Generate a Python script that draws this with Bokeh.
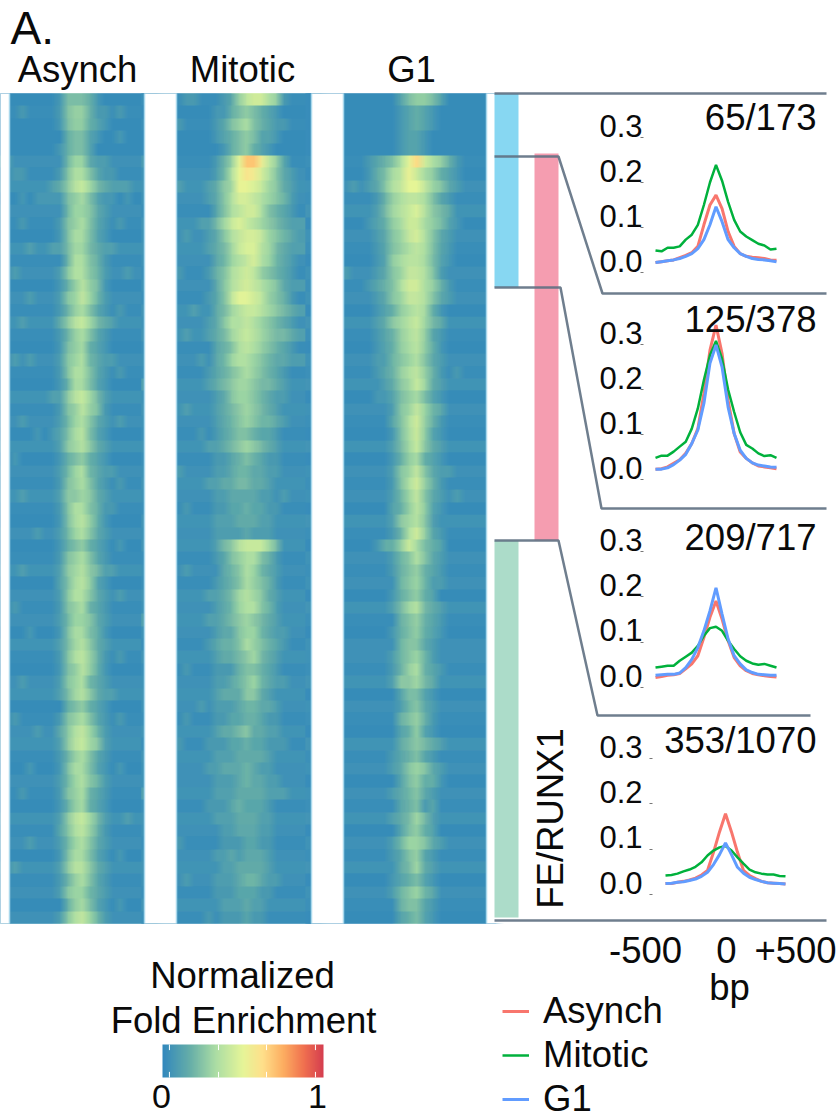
from bokeh.plotting import figure
from bokeh.embed import file_html
from bokeh.resources import INLINE
from bokeh.core.properties import value
from bokeh.models import Range1d, LinearAxis, FixedTicker, Legend, LegendItem, LinearColorMapper
import numpy as np

# ---------- data ----------
BP = list(range(-500, 501, 50))
P1_ASYNCH = [.022,.024,.026,.028,.033,.038,.044,.058,.106,.150,.172,.142,.091,.058,.042,.036,.034,.033,.031,.028,.027]
P1_MITOTIC = [.049,.047,.055,.055,.058,.073,.084,.106,.150,.200,.239,.204,.157,.117,.091,.080,.072,.064,.060,.051,.053]
P1_G1 = [.022,.024,.026,.028,.031,.036,.042,.053,.073,.106,.146,.113,.073,.055,.042,.036,.031,.029,.028,.026,.024]
P2_ASYNCH = [.023,.024,.028,.036,.044,.058,.080,.113,.191,.287,.343,.280,.176,.102,.061,.047,.037,.030,.028,.026,.024]
P2_MITOTIC = [.048,.053,.053,.062,.073,.084,.113,.158,.221,.276,.308,.268,.200,.150,.105,.077,.069,.058,.052,.054,.048]
P2_G1 = [.023,.023,.026,.033,.043,.056,.080,.110,.169,.258,.299,.250,.161,.102,.065,.047,.037,.032,.030,.028,.027]
P3_ASYNCH = [.022,.024,.027,.028,.031,.041,.052,.070,.110,.155,.191,.151,.103,.066,.048,.037,.031,.028,.026,.024,.023]
P3_MITOTIC = [.044,.046,.048,.048,.059,.068,.077,.092,.114,.131,.134,.125,.103,.085,.069,.059,.053,.050,.052,.048,.044]
P3_G1 = [.027,.028,.029,.029,.032,.044,.062,.088,.125,.169,.220,.162,.107,.070,.052,.039,.033,.029,.028,.027,.027]
P4_ASYNCH = [.024,.024,.027,.029,.032,.036,.043,.053,.093,.138,.178,.138,.093,.053,.042,.035,.029,.026,.025,.024,.023]
P4_MITOTIC = [.042,.043,.046,.051,.055,.061,.071,.086,.097,.104,.107,.097,.082,.068,.055,.049,.046,.044,.044,.041,.040]
P4_G1 = [.024,.025,.027,.028,.031,.034,.040,.049,.066,.088,.114,.088,.060,.047,.038,.033,.029,.026,.025,.024,.023]
PEAK_LABELS = ["65/173", "125/378", "209/717", "353/1070"]
Y_TICKS = [0.0, 0.1, 0.2, 0.3]
SERIES = ["Asynch", "Mitotic", "G1"]
SERIES_COLORS = ["#f8766d", "#00b13c", "#619cff"]
COLORBAR_TICKS = [0.043, 0.348, 0.646, 0.950]

# heat map rows, top to bottom; each character is a level read by eye (base 36, 1 level = 0.05)
HEAT_ASYNCH = [
"111111125554211111","112111125664221211","111111125664321111","111111114553211211","111111124553111111",
"211111114663221111","122111125775322111","111111235786432221","112122225675322121","111111114665321111",
"112111125675321211","111111125775321111","111211224664322111","111111114775421111","121111125775421121",
"111111124686521111","111211125686421111","111111124675321211","112111135786432111","111111124675321111",
"111111125674321111","121211125674322111","111111125775321211","111111124775321111","111111225786421111",
"111111125686521111","112111124675321211","111121235785321111","111111125675321111","121111124564321111",
"111111124674322111","111111125675321211","112111125565321111","111111125775422111","111111125786421111",
"111121124675321111","111111124564321211","111111125675321111","112111125675422111","111111135786321111",
"111111125775321211","121111125674321111","111111124665321111","111211125775421111","111111124675321111",
"111111125786421211","111111125686421111","112111125674321111","111111124675322111","111111114564321111",
"121111125675321211","111121135786421111","111111125786521111","111111124675321111","111211125775321211",
"111111124675421111","112111125674321111","111111124674321111","111111125786421121","111111135786421111",
"111211124675321111","111111125775321211","121111125775321111","111111124675321111","111111125664321111",
"111111114675321211","111111125786421111",
]
HEAT_MITOTIC = [
"112211123689976211","111111224565432111","121111235675432211","111111234565332111","111111124564321111",
"211111246aeeb86311","111111247acb975321","121112356aa9865321","111112357998765421","111111357899754321",
"111122468987654322","112112357899865432","111112346899764322","111111346789764321","121112457898654321",
"111111357898765322","111112358aa9865421","111211346788765432","111112357787654321","112112346787654432",
"111111345787654321","111121346776543322","111112345676543211","211112345665443211","111111235665432211",
"112111234565432111","111111234565443211","111121234554332111","111112234565432111","111111223454322111",
"121111223443322111","111112233443321111","111111223333221211","112111223343322111","111111222333221111",
"111111222232221111","111111245788864111","111111235677542111","112111134576432111","111111234576542111",
"111112234676532111","111111234677542111","211112234565432111","111111233566432211","111112344576543211",
"111111233456432111","112111222455432111","111111223456432211","111111233355321111","111121222344332111",
"112111223344322111","111111233453322111","121112223343322211","111111222333321111","111112233343221111",
"111111222343322111","211111222333322211","111112223433321111","111111222333221111","111111122333221111",
"121111122233221111","111111223233321111","111111122333321111","112111222344322111","111111222333221111",
"111111122232211111","111112122232211111",
]
HEAT_G1 = [
"111111113566531111","111111112343211111","111111112343211111","111111112332111111","111111112332111111",
"111123457ad9764211","111124578b97643211","112123578aa8653211","111112467887532111","111112467897543111",
"111123467997653211","111112356897532111","111112356787532111","111112367887532111","121112356887521111",
"111123457997642111","111112356887532111","111112346787421111","111112356786431111","111112346786321111",
"111112346786421111","111112245675321111","111112346786421211","111111235686321111","111112235675321111",
"111111125686431111","111111135796421111","111111125796321111","111111124685321111","111111124674321111",
"111111125685322111","111111125796421111","111111124685321211","111111134686321111","111111125675211111",
"111111124796321111","111112446975431111","111111124575321111","111111124564321111","111111114564221111",
"111111124564311111","111111124674321111","111111114564321111","111111124564321111","111111114553211111",
"111111124564211111","111111124674321111","111111125564311111","111111113553211111","111111112453211111",
"111111114564211111","111111113463211111","111111113454321111","111111123453211111","111111123565321111",
"111111113564421111","111111123453211111","111111113452311111","111111123464211111","111111113564311111",
"111111124665321111","111111123563211111","111111113463211111","111111123453211111","111111124564311111",
"111111114553211111","111111113453211111",
]
# faint full-width streaks of each row, read by eye (1 level = 0.012)
STREAK_ASYNCH = "01000" "2130210312" "0213102103" "1203021310" "2013021203" "1023012310" "2103120312" "02"
STREAK_MITOTIC = "10100" "1232132321" "2132312132" "3213123213" "2312132321" "3123213132" "2313212321" "31"
STREAK_G1 = "00000" "1021302102" "1203102130" "2103021203" "1021203102" "2130210312" "0213021302" "10"

# ---------- page geometry (pixels of the picture) ----------
W, H = 840, 1117
PX0, PX1, PY_BOTTOM, PY_TOP = 0, W, H, 0
HEAT_BOXES = [(9, 144), (176, 311), (343, 486)]
HEAT_SHIFT = [-0.8, -1.2, -1.3]   # columns
HEAT_Y = (93, 923)
LINE_BOXES = [  # x of -500 / +500, y of 0.0 / 0.3
    (655, 776, 272, 137), (655, 776, 479, 344), (655, 776, 687, 551), (665, 785, 894, 758)]
FONT = value("Liberation Sans")

p = figure(width=W, height=H, x_range=Range1d(PX0, PX1), y_range=Range1d(PY_BOTTOM, PY_TOP),
           x_axis_type=None, y_axis_type=None, toolbar_location=None, output_backend="svg",
           min_border=0, outline_line_color=None, background_fill_color="white")


def xr(pix0, pix1, v0, v1):
    f = lambda px: v0 + (px - pix0) * (v1 - v0) / (pix1 - pix0)
    return Range1d(f(PX0), f(PX1))


def yr(pix0, pix1, v0, v1):
    f = lambda px: v0 + (px - pix0) * (v1 - v0) / (pix1 - pix0)
    return Range1d(f(PY_BOTTOM), f(PY_TOP))


def label(x, y, s, size=36.5, align="center", angle=0):
    # y is the text's baseline in the picture; Bokeh is given the middle of the text
    p.text([x], [y - 0.34 * size if angle == 0 else y], text=[s], text_font=FONT, text_font_size=f"{size}px",
           text_align=align, text_baseline="middle", text_color="#0a0a0a", angle=angle)


# ---------- colour map ----------
ANCHOR_POS = [0, .17, .33, .5, .62, .75, .88, 1]
ANCHOR_COL = ["#3288bd", "#66aea8", "#abdda4", "#e6f598", "#fee08b", "#fdae61", "#f0704f", "#d53e4f"]
rgb = np.array([[int(c[i:i + 2], 16) for i in (1, 3, 5)] for c in ANCHOR_COL], float)
t = np.linspace(0, 1, 256)
palette = ["#%02x%02x%02x" % tuple(int(round(np.interp(v, ANCHOR_POS, rgb[:, k]))) for k in range(3)) for v in t]
mapper = LinearColorMapper(palette=palette, low=0, high=1)

# ---------- heat maps ----------
# The same matrix is laid over itself a few times, a fraction of a cell apart, to soften
# the column steps the way the scanned original is soft.
LAYERS = 8
PAD = 3
for name, rows, streak, (x0, x1), sh in zip(SERIES, [HEAT_ASYNCH, HEAT_MITOTIC, HEAT_G1],
                                            [STREAK_ASYNCH, STREAK_MITOTIC, STREAK_G1], HEAT_BOXES, HEAT_SHIFT):
    m = np.array([[int(c, 36) * 0.05 - 0.025 + int(s) * 0.012 for c in r.ljust(18, "1")[:18]]
                  for r, s in zip(rows, streak)])[::-1]
    nr, nc = m.shape
    padded = np.hstack([np.repeat(m[:, :1], PAD, axis=1), m, np.repeat(m[:, -1:], PAD, axis=1)])
    p.extra_x_ranges[f"hx{name}"] = xr(x0, x1, 0, nc)
    p.extra_y_ranges[f"hy{name}"] = yr(HEAT_Y[1], HEAT_Y[0], 0, nr)
    for k in range(LAYERS):
        shift = k / (LAYERS - 1) - 0.5 + sh
        p.image(image=[padded], x=shift - PAD, y=0, dw=nc + 2 * PAD, dh=nr, color_mapper=mapper,
                global_alpha=1 / (k + 1), x_range_name=f"hx{name}", y_range_name=f"hy{name}")

# white gutters trim the softened layers back to the panel edges
MASK_L = [-20, 144, 311, 486]
MASK_R = [9, 176, 343, 520]
p.quad(left=MASK_L, right=MASK_R, top=[HEAT_Y[0]] * 4, bottom=[HEAT_Y[1]] * 4, fill_color="white", line_color=None)
EDGE_X = [9, 144, 176, 311, 343, 486]
p.segment(EDGE_X, [HEAT_Y[0]] * 6, EDGE_X, [HEAT_Y[1]] * 6, line_color="#a9d8ec", line_width=1.5)

# ---------- side bands and connectors ----------
p.quad(left=[494, 534, 494], right=[518, 558, 518], top=[93, 153, 540], bottom=[287, 540, 917],
       fill_color=["#87d7f2", "#f59db0", "#acdcc9"], line_color=None)
CONNECT_X = [[494, 826], [494, 558, 602, 826], [494, 560, 601, 826], [494, 558, 597, 810], [494, 826]]
CONNECT_Y = [[93, 93], [156, 156, 293, 293], [287, 287, 508, 508], [540, 540, 715, 715], [920, 920]]
p.multi_line(CONNECT_X, CONNECT_Y, line_color="#5f7082", line_width=2.5, line_alpha=0.9)

# ---------- line panels ----------
ALL_SERIES = [[P1_ASYNCH, P1_MITOTIC, P1_G1], [P2_ASYNCH, P2_MITOTIC, P2_G1],
              [P3_ASYNCH, P3_MITOTIC, P3_G1], [P4_ASYNCH, P4_MITOTIC, P4_G1]]
TICK_X = [643, 643, 643, 652]
legend_refs = []
for i, (box, vals) in enumerate(zip(LINE_BOXES, ALL_SERIES)):
    xn, yn = f"lx{i}", f"ly{i}"
    p.extra_x_ranges[xn] = xr(box[0], box[1], -500, 500)
    p.extra_y_ranges[yn] = yr(box[2], box[3], 0, 0.3)
    axis = LinearAxis(y_range_name=yn, ticker=FixedTicker(ticks=Y_TICKS), fixed_location=TICK_X[i],
                      axis_line_color=None, major_tick_line_color="#777777", major_tick_line_width=1,
                      major_tick_in=0, major_tick_out=3, minor_tick_line_color=None,
                      major_label_text_color=None, major_label_text_font_size="1px")
    p.add_layout(axis, "left")
    rs = []
    for v, c, w in zip(vals, SERIES_COLORS, [3, 2.5, 3]):
        rs.append(p.line(BP, v, line_color=c, line_width=w, x_range_name=xn, y_range_name=yn))
    if i == 0:
        legend_refs = rs
    p.text([642] * 4, Y_TICKS, text=[f"{v:.1f}" for v in Y_TICKS], y_range_name=yn, y_offset=-12,
           text_font=FONT, text_font_size="31px", text_align="right", text_baseline="middle",
           text_color="#0a0a0a")

LABEL_Y = [129, 331, 549, 752]
for s, y in zip(PEAK_LABELS, LABEL_Y):
    label(816, y, s, align="right")

# ---------- text ----------
label(10, 43, "A.", size=46, align="left")
for s, x in zip(SERIES, [77, 242, 411]):
    label(x, 81, s)
label(550, 818, "FE/RUNX1", angle=np.pi / 2)
for s, x in zip(["-500", "0", "+500"], [645, 726, 795]):
    label(x, 962, s)
label(729, 999, "bp")
label(242, 987, "Normalized")
label(243, 1032, "Fold Enrichment")

# ---------- colour bar ----------
p.extra_x_ranges["cbx"] = xr(162, 323, 0, 1)
p.extra_y_ranges["cby"] = yr(1077, 1044, 0, 1)
p.image(image=[t.reshape(1, -1)], x=0, y=0, dw=1, dh=1, color_mapper=mapper, x_range_name="cbx", y_range_name="cby")
p.segment(COLORBAR_TICKS, [0] * 4, COLORBAR_TICKS, [.17] * 4, line_color="white", line_width=1,
          x_range_name="cbx", y_range_name="cby")
p.segment(COLORBAR_TICKS, [.83] * 4, COLORBAR_TICKS, [1] * 4, line_color="white", line_width=1,
          x_range_name="cbx", y_range_name="cby")
label(161, 1108, "0", size=34)
label(317, 1108, "1", size=34)

# ---------- legend ----------
legend = Legend(items=[LegendItem(label=s, renderers=[r]) for s, r in zip(SERIES, legend_refs)],
                location=(502, -3), border_line_color=None, background_fill_color=None, background_fill_alpha=0,
                label_text_font="Liberation Sans", label_text_font_size="36.5px", label_text_color="#0a0a0a",
                glyph_width=27, glyph_height=20, label_standoff=14, spacing=2, padding=0, margin=0)
p.add_layout(legend)

open("out.html", "w").write(file_html(p, INLINE))
